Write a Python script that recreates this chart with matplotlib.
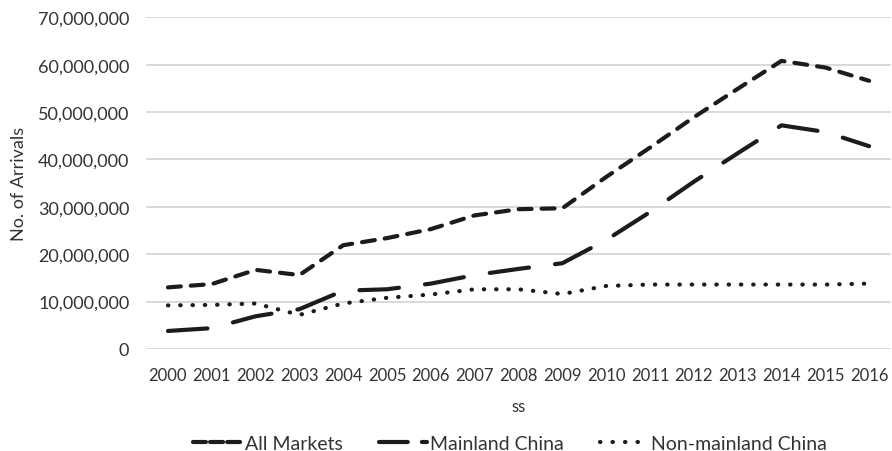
import matplotlib
matplotlib.use('Agg')
import matplotlib.pyplot as plt
from matplotlib.lines import Line2D
from matplotlib.ticker import FuncFormatter

years = ['2000', '2001', '2002', '2003', '2004', '2005', '2006', '2007', '2008',
         '2009', '2010', '2011', '2012', '2013', '2014', '2015', '2016']

all_markets = [13.0, 13.7, 16.7, 15.6, 21.9, 23.4, 25.3, 28.2, 29.5,
               29.7, 36.3, 42.5, 48.9, 54.9, 60.8, 59.4, 56.6]
mainland = [3.8, 4.4, 6.9, 8.4, 12.3, 12.6, 13.8, 15.6, 16.9,
            18.1, 23.0, 28.9, 35.3, 41.3, 47.2, 45.8, 42.8]
non_mainland = [9.2, 9.3, 9.6, 7.2, 9.6, 10.8, 11.5, 12.6, 12.6,
                11.6, 13.3, 13.6, 13.6, 13.6, 13.6, 13.6, 13.8]
series_names = ['All Markets', 'Mainland China', 'Non-mainland China']

# values above are in millions
all_markets = [v * 1e6 for v in all_markets]
mainland = [v * 1e6 for v in mainland]
non_mainland = [v * 1e6 for v in non_mainland]

plt.rcParams['font.family'] = ['Lato', 'DejaVu Sans']
text_color = '#333333'
line_color = '#1c1c1c'

fig, ax = plt.subplots(figsize=(8.92, 4.52), dpi=100)
fig.subplots_adjust(left=0.1637, right=0.9989, top=0.9595, bottom=0.2257)

x = list(range(len(years)))
style = dict(color=line_color, linewidth=3, dash_capstyle='round',
             dash_joinstyle='round', solid_joinstyle='round')
ax.plot(x, all_markets, dashes=(3.1, 2.4), **style)
ax.plot(x, mainland, dashes=(9.5, 6.3), **style)
ax.plot(x, non_mainland, dashes=(0.1, 2.85), **style)

ax.set_xlim(-0.5, len(years) - 0.5)
ax.set_ylim(0, 70e6)
ax.set_yticks([i * 10e6 for i in range(8)])
ax.yaxis.set_major_formatter(FuncFormatter(lambda v, p: f'{int(v):,}'))
ax.set_xticks(x)
ax.set_xticklabels(years)

ax.grid(axis='y', color='#d9d9d9', linewidth=1.4)
ax.set_axisbelow(True)
for side in ['top', 'right', 'left', 'bottom']:
    ax.spines[side].set_visible(False)
ax.tick_params(axis='both', length=0, colors=text_color)
ax.tick_params(axis='y', labelsize=13, pad=12)
ax.tick_params(axis='x', labelsize=12, pad=13)

ax.set_xlabel('ss', fontsize=12, color=text_color, labelpad=11)
ax.set_ylabel('No. of Arrivals', fontsize=13, color=text_color, labelpad=8)

# legend keys use shorter patterns so each fits its small swatch
handles = [
    Line2D([], [], dashes=(3.1, 1.0), **style),
    Line2D([], [], dashes=(6.9, 3.4), **style),
    Line2D([], [], dashes=(0.1, 2.9, 0.1, 2.9, 0.1, 2.9, 0.1, 20), **style),
]
fig.legend(handles, series_names, loc='center', bbox_to_anchor=(0.572, 0.017),
           ncol=3, frameon=False, fontsize=14, labelcolor=text_color,
           handlelength=2.5, handletextpad=0.15, columnspacing=1.85)

fig.savefig('out.png', dpi=100)
